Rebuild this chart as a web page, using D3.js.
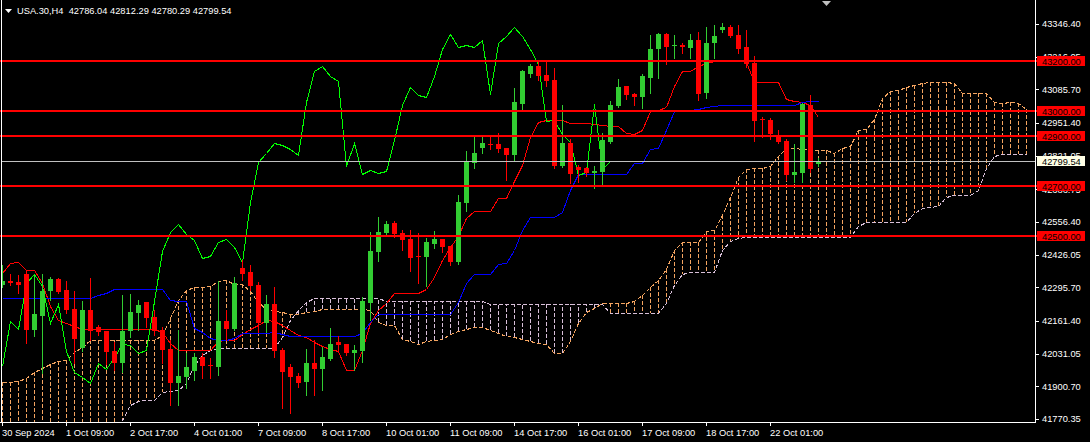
<!DOCTYPE html>
<html><head><meta charset="utf-8">
<script src="https://cdn.jsdelivr.net/npm/d3@7/dist/d3.min.js"></script>
<style>
html,body{margin:0;padding:0;background:#000;overflow:hidden}
svg{display:block}
text{font-family:"Liberation Sans",Arial,sans-serif;font-size:9.3px}
</style></head><body>
<svg id="chart" width="1090" height="442"></svg>
<script>
// ---- DATA (USA.30, H4) ----
const symbolTitle = "USA.30,H4";
const lastQuote = ["42786.04", "42812.29", "42780.29", "42799.54"];
const opens = [
  42305,42322,42317,42348,42125,42182,42282,42329,42285,42209,
  42053,42205,42138,42122,42042,41992,42122,42194,42238,42177,
  42125,42049,41915,41939,41963,42018,41986,41979,42162,42129,
  42371,42357,42305,42154,42229,42046,41976,41942,41919,41992,
  41971,42010,42076,42069,42035,42043,42234,42438,42511,42551,
  42511,42487,42422,42418,42468,42487,42460,42398,42633,42793,
  42853,42866,42867,42853,42824,43027,43147,43179,43143,43123,
  42780,42873,42774,42770,42753,42757,42877,43020,43099,43067,
  43056,43132,43245,43306,43258,43264,43252,43282,43070,43269,
  43322,43333,43302,43253,43192,42966,42963,42903,42879,42744,
  42753,43023,42786.04];
const highs = [
  42385,42349,42345,42361,42345,42349,42337,42334,42321,42281,
  42241,42333,42145,42122,42079,42265,42269,42245,42238,42205,
  42137,42085,42125,42034,42034,42034,42014,42322,42205,42338,
  42405,42385,42317,42265,42298,42053,41990,41954,42049,42085,
  42059,42133,42101,42069,42065,42256,42518,42577,42560,42560,
  42524,42524,42511,42491,42520,42488,42460,42664,42840,42903,
  42897,42897,42910,42853,43090,43163,43185,43196,43196,43169,
  43023,42887,42784,42777,42780,42910,43039,43126,43099,43072,
  43147,43302,43311,43310,43302,43272,43306,43316,43333,43342,
  43349,43342,43342,43322,43219,42976,42970,42923,42886,42867,
  43030,43063,42812.29];
const lows = [
  42297,42305,42273,42073,42103,41954,42245,42272,42193,41994,
  42042,42085,42105,41990,41966,41959,42099,42125,42138,42105,
  41994,41826,41826,41894,41926,41934,41934,41946,42085,42125,
  42325,42285,42118,42118,42016,41814,41795,41899,41866,41866,
  41886,42006,42043,42026,41966,41999,42165,42402,42504,42498,
  42444,42362,42314,42301,42452,42438,42385,42389,42600,42773,
  42830,42847,42837,42724,42804,43006,43136,43123,43100,42770,
  42777,42713,42717,42741,42691,42701,42871,43015,43046,43023,
  43012,43070,43132,43187,43212,43229,43209,43043,43050,43209,
  43316,43296,43229,43176,42881,42894,42886,42873,42724,42717,
  42717,42757,42780.29];
const closes = [
  42321,42312,42306,42125,42189,42282,42329,42278,42205,42089,
  42205,42122,42118,42039,41995,42122,42198,42225,42174,42122,
  42046,41913,41942,41979,42019,41982,41982,42162,42129,42312,
  42349,42302,42154,42229,42043,41959,41939,41915,41995,41971,
  42016,42069,42065,42035,42044,42241,42440,42516,42548,42507,
  42484,42414,42420,42476,42487,42458,42398,42636,42794,42830,
  42870,42863,42849,42824,43036,43160,43180,43139,43119,42780,
  42873,42748,42764,42753,42761,42883,43023,43094,43063,43054,
  43139,43246,43306,43256,43264,43253,43282,43066,43272,43298,
  43333,43300,43248,43185,42960,42963,42906,42877,42744,42755,
  43027,42768,42799.54];

// Ichimoku lines (one value per bar)
const tenkan = [
  42353,42393,42397,42365,42365,42313,42221,42165,42153,42141,
  42129,42129,42129,42129,42129,42129,42129,42129,42129,42129,
  42117,42073,42046,42046,42046,42046,42046,42081,42085,42085,
  42109,42129,42145,42165,42161,42145,42125,42105,42097,42077,
  42061,42049,42041,41966,41966,42046,42153,42205,42233,42273,
  42273,42273,42273,42289,42337,42405,42457,42500,42572,42600,
  42600,42600,42652,42652,42720,42784,42895,42955,42963,42963,
  42963,42952,42952,42952,42947,42943,42939,42939,42911,42907,
  42923,42999,43003,43015,43099,43160,43160,43179,43191,43199,
  43203,43203,43203,43195,43115,43115,43115,43115,43045,43038,
  43036,43022,42975];
const kijun = [
  42252,42252,42252,42252,42252,42252,42252,42252,42252,42252,
  42252,42252,42265,42273,42289,42289,42289,42289,42289,42289,
  42289,42245,42242,42241,42133,42117,42093,42085,42085,42093,
  42113,42113,42113,42113,42117,42109,42101,42101,42101,42101,
  42101,42101,42101,42101,42101,42113,42157,42189,42189,42189,
  42189,42189,42189,42189,42189,42189,42189,42237,42313,42349,
  42349,42349,42389,42393,42445,42524,42576,42577,42577,42577,
  42596,42684,42748,42748,42748,42748,42748,42748,42748,42792,
  42793,42846,42850,42923,42999,43001,43003,43007,43015,43019,
  43023,43023,43023,43023,43023,43023,43023,43023,43023,43023,
  43035,43039,43039];
const senkouA = [
  41919,41919,41922,41934,41958,41974,41990,42002,42006,42038,
  42057,42085,42085,42085,42085,42085,42085,42085,42085,42085,
  42105,42173,42245,42285,42297,42297,42302.5,42322.5,42324.5,42308.5,
  42308.5,42282.5,42236.5,42208.5,42202.5,42196.5,42190.5,42190.5,42197,42201,
  42209,42209,42209,42209,42209,42209,42203,42159,42144,42143.5,
  42089.5,42081.5,42069.5,42083,42085,42089,42111,42121,42129,42139,
  42139,42127,42113,42103,42099,42089,42081,42075,42071,42033.5,
  42033.5,42079.5,42155,42197,42211,42231,42231,42231,42231,42239,
  42263,42297,42323,42368.5,42442.5,42474.5,42474.5,42474.5,42520.5,42522.5,
  42582.5,42654,42735.5,42766,42770,42770,42779.5,42818,42850,42850,
  42847.5,42845.5,42843.5,42843.5,42829.5,42849.5,42858,42922.5,42926.5,42969,
  43049,43080.5,43081.5,43093,43103,43109,43113,43113,43113,43109,
  43069,43069,43069,43069,43034,43030.5,43035.5,43030.5,43007];
const senkouB = [
  41718,41718,41718,41718,41718,41718,41718,41718,41718,41718,
  41718,41718,41718,41718,41718,41766,41826,41842,41846,41846,
  41878,41882,41886,41914,41986,42026,42046,42054,42054,42054,
  42054,42054,42054,42054,42054,42097,42165,42205,42237,42251,
  42251,42251,42251,42251,42251,42251,42251,42251,42242,42242,
  42242,42242,42242,42242,42242,42242,42242,42242,42242,42242,
  42242,42227,42227,42227,42227,42227,42227,42227,42227,42227,
  42227,42227,42227,42227,42227,42227,42193,42193,42193,42193,
  42193,42193,42193,42233,42305,42349,42357,42357,42357,42357,
  42444.5,42480,42492,42496,42496,42496,42496,42496,42496,42496,
  42496,42496,42496,42496,42496,42496,42496,42540,42556,42556,
  42556,42556,42556,42556,42592,42612,42616,42620,42656,42664,
  42664,42664,42684,42772,42820,42826,42826,42826,42826];
const chikouShift = 26;

// horizontal levels
const levels = [43200, 43000, 42900, 42700, 42500];
const currentPrice = 42799.54;

// axis tick labels
const yTicks = ["43346.40","43216.05","43085.70","42951.40","42821.05","42686.75","42556.40","42426.05","42295.70","42161.40","42031.05","41900.70","41770.35"];
const xTickIndex = [0,8,16,24,32,40,48,56,64,72,80,88,96];
const xTickLabels = ["30 Sep 2024","1 Oct 09:00","2 Oct 17:00","4 Oct 01:00","7 Oct 09:00","8 Oct 17:00","10 Oct 01:00","11 Oct 09:00","14 Oct 17:00","16 Oct 01:00","17 Oct 09:00","18 Oct 17:00","22 Oct 01:00"];

// ---- DRAW ----
const svg = d3.select("#chart");
const W = 1090, H = 442;
const plotRight = 1035, plotBottom = 422;
svg.append("rect").attr("width", W).attr("height", H).attr("fill", "#000");

const x = d3.scaleLinear().domain([0, 128]).range([2, 1026]);
const y = d3.scaleLinear().domain([41770.35, 43346.40]).range([418.9, 23.96]);
const px = v => Math.round(v);

svg.append("clipPath").attr("id", "plotClip").append("rect")
  .attr("x", 1).attr("y", 0).attr("width", plotRight - 1).attr("height", plotBottom);
const plot = svg.append("g").attr("clip-path", "url(#plotClip)");

const UP = "#32CD32", DOWN = "#FF0000";
const SANDY = "#F4A460", THISTLE = "#D8BFD8";
const dash = "4,2";

// cloud hatch
const nCloud = Math.min(senkouA.length, senkouB.length);
const cloudIdx = d3.range(nCloud);
plot.append("g").selectAll("line").data(cloudIdx).join("line")
  .attr("x1", i => px(x(i)) + 0.5).attr("x2", i => px(x(i)) + 0.5)
  .attr("y1", i => y(senkouA[i])).attr("y2", i => y(senkouB[i]))
  .attr("stroke", i => senkouA[i] >= senkouB[i] ? SANDY : THISTLE)
  .attr("stroke-width", 1).attr("stroke-dasharray", dash)
  .attr("shape-rendering", "crispEdges");

const lineGen = arr => d3.line().x((d, i) => px(x(i)) + 0.5).y(d => px(y(d)) + 0.5)(arr);
plot.append("path").attr("d", lineGen(senkouA.slice(0, nCloud))).attr("fill", "none")
  .attr("stroke", SANDY).attr("stroke-dasharray", dash).attr("shape-rendering", "crispEdges");
plot.append("path").attr("d", lineGen(senkouB.slice(0, nCloud))).attr("fill", "none")
  .attr("stroke", THISTLE).attr("stroke-dasharray", dash).attr("shape-rendering", "crispEdges");

// tenkan, kijun, chikou
plot.append("path").attr("d", lineGen(tenkan)).attr("fill", "none")
  .attr("stroke", "#FF0000").attr("shape-rendering", "crispEdges");
plot.append("path").attr("d", lineGen(kijun)).attr("fill", "none")
  .attr("stroke", "#0000FF").attr("shape-rendering", "crispEdges");
const chikou = closes.slice(chikouShift);
plot.append("path").attr("d", lineGen(chikou)).attr("fill", "none")
  .attr("stroke", "#00FF00").attr("shape-rendering", "crispEdges");

// candles
const bars = d3.range(opens.length);
const cg = plot.append("g").attr("shape-rendering", "crispEdges");
cg.selectAll("rect.wick").data(bars).join("rect").attr("class", "wick")
  .attr("x", i => px(x(i))).attr("width", 1)
  .attr("y", i => px(y(highs[i])))
  .attr("height", i => Math.max(1, px(y(lows[i])) - px(y(highs[i])) + 1))
  .attr("fill", i => closes[i] >= opens[i] ? UP : DOWN);
cg.selectAll("rect.body").data(bars).join("rect").attr("class", "body")
  .attr("x", i => px(x(i)) - 2).attr("width", 5)
  .attr("y", i => px(y(Math.max(opens[i], closes[i]))))
  .attr("height", i => Math.max(1, px(y(Math.min(opens[i], closes[i]))) - px(y(Math.max(opens[i], closes[i])))))
  .attr("fill", i => closes[i] >= opens[i] ? UP : DOWN);

// current price line
plot.append("line").attr("x1", 0).attr("x2", plotRight)
  .attr("y1", px(y(currentPrice)) + 0.5).attr("y2", px(y(currentPrice)) + 0.5)
  .attr("stroke", "#C0C0C0").attr("shape-rendering", "crispEdges");

// horizontal level lines
svg.append("g").selectAll("line").data(levels).join("line")
  .attr("x1", 0).attr("x2", 1038)
  .attr("y1", d => px(y(d))).attr("y2", d => px(y(d)))
  .attr("stroke", "#FF0000").attr("stroke-width", 2).attr("shape-rendering", "crispEdges");

// frame
const frame = svg.append("g").attr("stroke", "#FFFFFF").attr("shape-rendering", "crispEdges");
frame.append("line").attr("x1", 1.5).attr("x2", 1.5).attr("y1", 0).attr("y2", plotBottom);
frame.append("line").attr("x1", 0).attr("x2", plotRight + 1).attr("y1", plotBottom + 0.5).attr("y2", plotBottom + 0.5);
frame.append("line").attr("x1", plotRight + 0.5).attr("x2", plotRight + 0.5).attr("y1", 0).attr("y2", plotBottom + 1);

// y axis ticks + labels
const yAxis = svg.append("g");
yAxis.selectAll("line").data(yTicks).join("line")
  .attr("x1", plotRight).attr("x2", plotRight + 4)
  .attr("y1", d => px(y(+d)) + 0.5).attr("y2", d => px(y(+d)) + 0.5)
  .attr("stroke", "#FFFFFF").attr("shape-rendering", "crispEdges");
yAxis.selectAll("text").data(yTicks).join("text")
  .attr("x", 1042).attr("y", d => y(+d) + 3.4)
  .attr("fill", "#FFFFFF").text(d => d);

// level labels
const lvl = svg.append("g");
lvl.selectAll("rect").data(levels).join("rect")
  .attr("x", 1037).attr("width", 48)
  .attr("y", d => px(y(d)) - 5).attr("height", 10)
  .attr("fill", "#FF0000").attr("shape-rendering", "crispEdges");
lvl.selectAll("text").data(levels).join("text")
  .attr("x", 1042).attr("y", d => px(y(d)) + 3.5)
  .attr("fill", "#000000").text(d => d.toFixed(2));

// current price label
svg.append("rect").attr("x", 1037).attr("width", 48)
  .attr("y", px(y(currentPrice)) - 5).attr("height", 10)
  .attr("fill", "#FFFFE6").attr("shape-rendering", "crispEdges");
svg.append("text").attr("x", 1042).attr("y", px(y(currentPrice)) + 3.5)
  .attr("fill", "#000000").text(currentPrice.toFixed(2));

// x axis ticks + labels
const xAxis = svg.append("g");
xAxis.selectAll("line").data(xTickIndex).join("line")
  .attr("x1", i => px(x(i)) + 0.5).attr("x2", i => px(x(i)) + 0.5)
  .attr("y1", plotBottom).attr("y2", plotBottom + 4)
  .attr("stroke", "#FFFFFF").attr("shape-rendering", "crispEdges");
xAxis.selectAll("text").data(xTickIndex).join("text")
  .attr("x", i => px(x(i))).attr("y", 436)
  .attr("fill", "#FFFFFF").text((d, k) => xTickLabels[k]);

// title
svg.append("path").attr("d", "M5,9 L12,9 L8.5,13 Z").attr("fill", "#FFFFFF");
svg.append("text").attr("x", 17).attr("y", 14).attr("fill", "#FFFFFF")
  .style("white-space", "pre")
  .text(symbolTitle + "  " + lastQuote.join(" "));

// chart-shift marker
svg.append("path").attr("d", "M822,1 L831,1 L826.5,6 Z").attr("fill", "#C0C0C0");
</script>
</body></html>
